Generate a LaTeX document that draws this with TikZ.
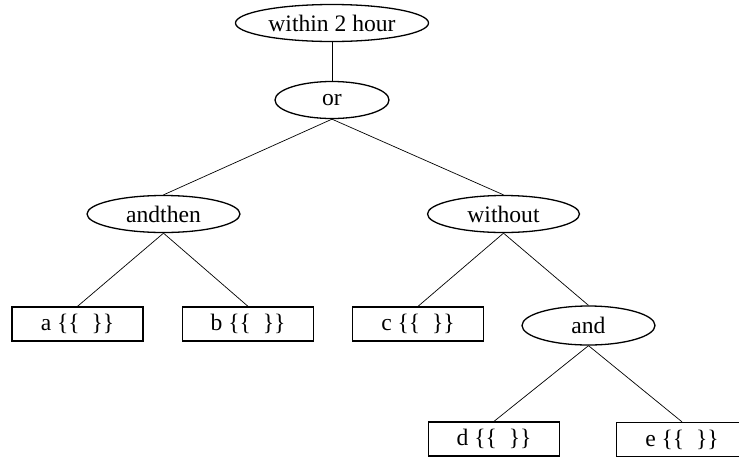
\documentclass[tikz,border=0pt]{standalone}
\usepackage{fontspec}
\setmainfont{Liberation Serif}
\usetikzlibrary{shapes.geometric}
\begin{document}
\begin{tikzpicture}[x=1pt,y=-1pt,
  every node/.style={font=\fontsize{23.6}{28}\selectfont, inner sep=0pt},
  op/.style={ellipse, draw, line width=1.3pt, minimum height=37pt},
  leaf/.style={rectangle, draw, line width=1.3pt, minimum width=131pt, minimum height=34pt},
  edge/.style={line width=0.7pt}]
\useasboundingbox (0,0) rectangle (739,456);
\node[op, minimum width=193pt] (w) at (332,23) {within 2 hour};
\node[op, minimum width=114pt] (or) at (332,100) {or};
\node[op, minimum width=153pt] (at) at (163.5,214) {andthen};
\node[op, minimum width=152pt] (wo) at (503.5,214) {without};
\node[leaf] (a) at (77.5,324) {a \{\{\ \ \}\}};
\node[leaf] (b) at (248,324) {b \{\{\ \ \}\}};
\node[leaf] (c) at (418,324) {c \{\{\ \ \}\}};
\node[op, minimum width=133pt, minimum height=39pt] (and) at (588.5,325.5) {and};
\node[leaf] (d) at (494,439) {d \{\{\ \ \}\}};
\node[leaf] (e) at (682,439.5) {e \{\{\ \ \}\}};
\draw[edge] (w.south) -- (or.north);
\draw[edge] (or.south) -- (at.north);
\draw[edge] (or.south) -- (wo.north);
\draw[edge] (at.south) -- (a.north);
\draw[edge] (at.south) -- (b.north);
\draw[edge] (wo.south) -- (c.north);
\draw[edge] (wo.south) -- (and.north);
\draw[edge] (and.south) -- (d.north);
\draw[edge] (and.south) -- (e.north);
\end{tikzpicture}
\end{document}
